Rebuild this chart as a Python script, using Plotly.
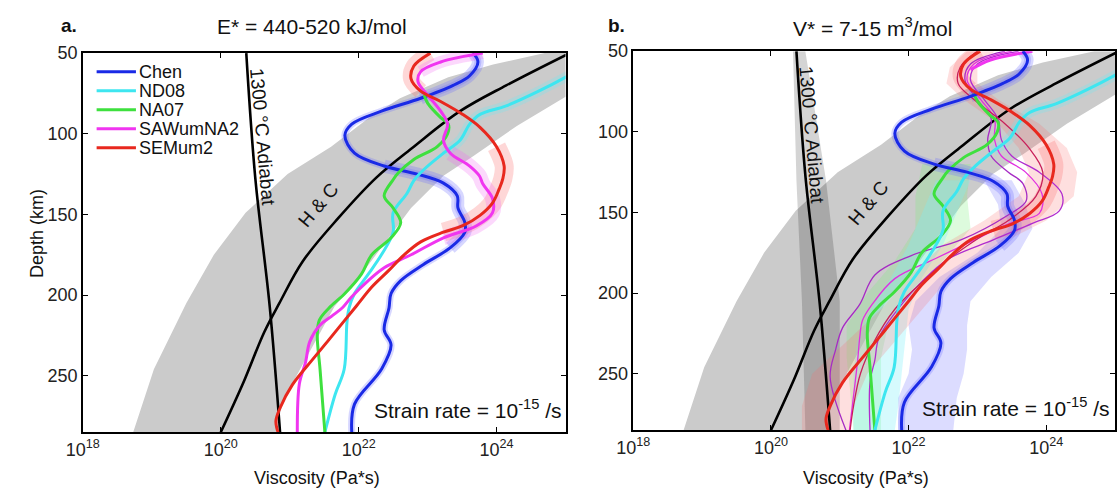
import plotly.graph_objects as go

W, H = 1117, 492
FONT = "Liberation Sans, Arial, sans-serif"

# ---------------- data (depth in km, log10 viscosity in Pa*s) ----------------
series_names = ["Chen", "ND08", "NA07", "SAWumNA2", "SEMum2"]
series_colors = ["#1a2ae6", "#3ee6f0", "#3ee03e", "#f035f0", "#e8281e"]

chen_d = [50, 55.5, 64, 70, 78, 86, 94, 101, 112, 120, 125, 130.6, 138.5, 146, 155, 161,
          170.6, 181, 191, 199, 208, 221.5, 231, 246, 267.6, 285]
chen_v = [23.66, 23.73, 23.61, 23.37, 22.90, 22.33, 21.90, 21.80, 21.94, 22.37, 22.85, 23.23,
          23.43, 23.44, 23.54, 23.54, 23.33, 22.94, 22.61, 22.47, 22.44, 22.37, 22.47, 22.33,
          21.94, 21.90]

nd08_d = [55, 64, 73.6, 82.7, 88, 94, 104, 112, 122, 129, 137, 149, 161, 175, 187, 199, 208,
          217, 246, 261.5, 285]
nd08_v = [25.4, 25.04, 24.61, 24.14, 23.76, 23.61, 23.47, 23.23, 22.95, 22.8, 22.7, 22.5, 22.5,
          22.33, 22.14, 21.94, 21.86, 21.83, 21.79, 21.66, 21.51]

na07_d = [76, 81, 90, 94, 100, 108, 116, 124.5, 128.5, 138.5, 146, 155, 164.5, 175, 187, 199,
          208, 215.5, 225, 246, 285]
na07_v = [22.95, 23.0, 23.19, 23.30, 23.29, 23.14, 22.8, 22.57, 22.5, 22.37, 22.5, 22.61, 22.47,
          22.19, 22.04, 21.80, 21.57, 21.43, 21.40, 21.44, 21.51]

saw_d = [50, 55.5, 61.5, 67.6, 76, 86, 94, 104, 112, 120, 126, 131, 140, 149, 157, 164.5, 175,
         183, 191, 201, 208, 213, 219, 229, 241.5, 255, 285]
saw_v = [23.8, 23.19, 22.9, 22.86, 23.0, 23.19, 23.29, 23.23, 23.33, 23.61, 23.75, 23.8, 23.94,
         23.94, 23.71, 23.23, 22.76, 22.37, 22.14, 21.9, 21.76, 21.61, 21.43, 21.29, 21.23,
         21.14, 21.11]

sem_d = [50, 58, 66, 73.6, 80, 88, 96, 108, 120, 128, 134, 143, 150.6, 157, 161, 167, 175, 185,
         195, 205, 215.5, 227.6, 240, 255.5, 270, 278, 285]
sem_v = [23.04, 22.8, 22.76, 22.9, 23.19, 23.51, 23.76, 24.0, 24.11, 24.09, 24.04, 23.94, 23.76,
         23.51, 23.23, 22.9, 22.66, 22.43, 22.19, 22.0, 21.80, 21.57, 21.33, 21.04, 20.86,
         20.8, 20.83]

# panel b: thin SAWumNA2 / SEMum2 variants
sawb1_d = [50, 58, 68, 80, 92, 105, 115, 125, 138.6, 149, 156.7, 167, 179, 193, 207, 227.6,
           241.5, 255, 285]
sawb1_v = [23.6, 23.0, 22.9, 23.1, 23.3, 23.35, 23.5, 23.9, 24.23, 24.19, 23.8, 23.23, 22.57,
           22.19, 21.9, 21.57, 21.51, 21.44, 21.44]
sawb2_d = [50, 58, 68, 80, 92, 105, 115, 125, 138.6, 150.6, 156.7, 169, 179, 191, 207, 217,
           227.6, 241.5, 285]
sawb2_v = [23.5, 22.95, 22.85, 23.05, 23.25, 23.25, 23.35, 23.7, 23.94, 23.9, 23.47, 22.86,
           22.37, 21.8, 21.47, 21.33, 21.29, 21.26, 21.14]
sawb3_d = [50, 58, 68, 80, 92, 105, 115, 125, 132, 142.7, 152, 167, 176.7, 188.8, 207, 221.5,
           235, 252, 285]
sawb3_v = [23.4, 22.9, 22.82, 23.0, 23.2, 23.15, 23.2, 23.45, 23.66, 23.71, 23.43, 22.76,
           22.04, 21.51, 21.29, 21.04, 20.94, 20.86, 21.09]
semb1_d = [50, 60, 70, 80, 95, 110, 125, 140, 155, 165, 180, 195, 210, 230, 250, 270, 285]
semb1_v = [23.0, 22.75, 22.72, 22.95, 23.4, 23.75, 23.95, 23.85, 23.45, 23.05, 22.55, 22.15,
           21.8, 21.5, 21.3, 21.2, 21.15]

# reference curves
hc_d = [50, 70, 86, 108, 127, 152, 179, 205, 223, 254, 285]
hc_v = [25.06, 24.14, 23.47, 22.8, 22.26, 21.71, 21.19, 20.85, 20.63, 20.33, 20.0]
adiabat_d = [50, 127, 207, 285]
adiabat_v = [20.37, 20.5, 20.71, 20.86]

# H&C range band (grey): upper-left edge (bottom->top), lower-right edge (top->bottom)
band_up_d = [285, 246, 205, 175, 149, 125, 108, 90, 78, 65, 57, 50]
band_up_v = [18.73, 19.03, 19.5, 19.9, 20.36, 20.97, 21.6, 22.15, 22.6, 23.3, 23.95, 24.7]
band_lo_d = [50, 58, 76, 95, 114, 126, 146, 157, 173, 187, 207, 230, 246, 266, 285]
band_lo_v = [26.0, 25.6, 25.04, 24.3, 23.66, 23.23, 22.76, 22.57, 22.29, 22.04, 21.65, 21.35,
             21.15, 20.9, 20.8]

# panel b: adiabat uncertainty band
adb_d = [50, 130, 205, 285]
adb_lo = [20.32, 20.37, 20.45, 20.5]
adb_hi = [20.5, 20.8, 21.0, 21.0]

# panel b: model uncertainty bands
chenb_d = [130, 145, 160, 175, 190, 205, 220, 235, 250, 265, 285]
chenb_lo = [23.1, 23.3, 23.35, 23.0, 22.45, 22.1, 22.0, 22.05, 22.0, 21.85, 21.85]
chenb_hi = [23.5, 23.7, 23.8, 23.6, 23.2, 22.9, 22.85, 22.85, 22.8, 22.7, 22.65]
semb_d = [50, 60, 70, 80, 95, 110, 125, 140, 155, 170, 190, 210, 230, 250, 270, 285]
semb_lo = [22.85, 22.6, 22.55, 22.8, 23.3, 23.6, 23.75, 23.6, 23.1, 22.5, 22.0, 21.6, 21.1,
           20.6, 20.45, 20.45]
semb_hi = [23.25, 23.0, 23.0, 23.3, 23.9, 24.3, 24.45, 24.4, 24.0, 23.3, 22.6, 22.2, 21.8,
           21.4, 21.2, 21.15]
nd08b_d = [130, 150, 170, 190, 210, 230, 250, 270, 285]
nd08b_lo = [22.4, 22.2, 22.0, 21.75, 21.45, 21.25, 21.2, 21.2, 21.2]
nd08b_hi = [22.9, 22.7, 22.5, 22.2, 22.0, 21.95, 21.9, 21.85, 21.8]
na07b_d = [120, 140, 160, 180, 200, 220, 240, 260, 285]
na07b_lo = [22.2, 22.1, 22.1, 21.8, 21.4, 21.1, 21.1, 21.15, 21.2]
na07b_hi = [22.9, 22.85, 22.9, 22.5, 22.0, 21.7, 21.6, 21.6, 21.6]

x_tick_exp = [18, 20, 22, 24]
y_ticks = [50, 100, 150, 200, 250]

# ---------------- helpers ----------------
fig = go.Figure()


def lg(v):
    return [10.0 ** a for a in v]


def seg(d, v, lo, hi):
    pts = [(a, b) for a, b in zip(d, v) if lo <= a <= hi]
    return [p[0] for p in pts], [p[1] for p in pts]


def axes(ax):
    return dict(xaxis="x" + ax, yaxis="y" + ax)


def add_line(ax, d, v, color, width, smooth=1.0):
    fig.add_trace(go.Scatter(x=lg(v), y=list(d), mode="lines",
                             line=dict(color=color, width=width, shape="spline",
                                       smoothing=smooth),
                             showlegend=False, hoverinfo="skip", **axes(ax)))


def add_poly(ax, d1, v1, d2, v2, color):
    xs = lg(v1) + lg(v2)
    ys = list(d1) + list(d2)
    fig.add_trace(go.Scatter(x=xs, y=ys, mode="lines", fill="toself", fillcolor=color,
                             line=dict(width=0, color="rgba(0,0,0,0)"),
                             showlegend=False, hoverinfo="skip", **axes(ax)))


def add_band(ax, d, lo, hi, color):
    add_poly(ax, d, lo, d[::-1], hi[::-1], color)


GREY = "#cbcbcb"
for ax in ["", "2"]:
    add_poly(ax, band_up_d, band_up_v, band_lo_d, band_lo_v, GREY)

# panel b shaded ranges
add_band("2", adb_d, adb_lo, adb_hi, "rgba(0,0,0,0.17)")
add_band("2", na07b_d, na07b_lo, na07b_hi, "rgba(120,240,120,0.25)")
add_band("2", nd08b_d, nd08b_lo, nd08b_hi, "rgba(120,240,250,0.30)")
add_band("2", chenb_d, chenb_lo, chenb_hi, "rgba(140,140,255,0.30)")
add_band("2", semb_d, semb_lo, semb_hi, "rgba(250,110,110,0.22)")

# translucent glows around model curves
glow = {
    "Chen": "rgba(110,110,255,0.28)",
    "ND08": "rgba(110,235,245,0.28)",
    "SAWumNA2": "rgba(245,100,245,0.25)",
    "SEMum2": "rgba(250,110,110,0.28)",
}
for ax in ["", "2"]:
    for lo, hi, w in [(50, 80, 12), (120, 176, 13)]:
        d, v = seg(chen_d, chen_v, lo, hi)
        add_line(ax, d, v, glow["Chen"], w)
    add_line(ax, chen_d, chen_v, glow["Chen"], 7)
    d, v = seg(nd08_d, nd08_v, 60, 118)
    add_line(ax, d, v, glow["ND08"], 10)
    for lo, hi, w in [(50, 76, 16), (98, 166, 19)]:
        d, v = seg(sem_d, sem_v, lo, hi)
        add_line(ax, d, v, glow["SEMum2"], w)
for lo, hi, w in [(50, 62, 12), (110, 170, 15)]:
    d, v = seg(saw_d, saw_v, lo, hi)
    add_line("", d, v, glow["SAWumNA2"], w)

# reference black curves
for ax in ["", "2"]:
    add_line(ax, hc_d, hc_v, "black", 2.6)
    add_line(ax, adiabat_d, adiabat_v, "black", 2.6)

# model curves
main = [(chen_d, chen_v), (nd08_d, nd08_v), (na07_d, na07_v), (saw_d, saw_v), (sem_d, sem_v)]
for i, (d, v) in enumerate(main):
    add_line("", d, v, series_colors[i], 3)

# panel b
for d, v, c in [(sawb1_d, sawb1_v, "#b02ccf"), (sawb2_d, sawb2_v, "#e030e0"),
                (sawb3_d, sawb3_v, "#a62bc4"), (semb1_d, semb1_v, "#c8205a")]:
    add_line("2", d, v, c, 1.3)
d, v = seg(saw_d, saw_v, 50, 62)
add_line("2", d, v, series_colors[3], 3)
for i in [2, 1, 0, 4]:
    d, v = main[i]
    add_line("2", d, v, series_colors[i], 3)

# ---------------- axes ----------------
TICKFONT = dict(family=FONT, size=18, color="#222")


def xax(domain, anchor):
    return dict(type="log", range=[18, 25], domain=domain, anchor=anchor,
                tickvals=[10.0 ** e for e in x_tick_exp],
                ticktext=["10<sup>%d</sup>" % e for e in x_tick_exp],
                ticks="inside", ticklen=5, tickwidth=1, tickcolor="black",
                showline=True, mirror="ticks", linecolor="black", linewidth=1.6,
                showgrid=False, zeroline=False, tickfont=TICKFONT)


def yax(domain, anchor):
    return dict(range=[285, 50], domain=domain, anchor=anchor, tickvals=y_ticks,
                ticks="inside", ticklen=5, tickwidth=1, tickcolor="black",
                showline=True, mirror="ticks", linecolor="black", linewidth=1.6,
                showgrid=False, zeroline=False, tickfont=TICKFONT)


fig.update_layout(
    width=W, height=H, margin=dict(l=0, r=0, t=0, b=0),
    paper_bgcolor="white", plot_bgcolor="white", showlegend=False,
    xaxis=xax([67 / W, 558 / W], "y"),
    yaxis=yax([1 - 431 / H, 1 - 44 / H], "x"),
    xaxis2=xax([627 / W, 1.0], "y2"),
    yaxis2=yax([1 - 429 / H, 1 - 42 / H], "x2"),
    font=dict(family=FONT, size=18, color="#222"),
)


def ann(text, px, py, size, xanchor="center", angle=0, bold=False):
    fig.add_annotation(text=("<b>%s</b>" % text) if bold else text,
                       x=px / W, y=1 - py / H, xref="paper", yref="paper",
                       xanchor=xanchor, yanchor="middle", showarrow=False, textangle=angle,
                       font=dict(family=FONT, size=size, color="#111"))


ann("a.", 53, 16, 19, bold=True)
ann("E* = 440-520 kJ/mol", 300, 17, 21)
ann("b.", 610, 16, 19, bold=True)
ann("V* = 7-15 m<sup>3</sup>/mol", 870, 17, 21)
ann("Depth (km)", 21, 228, 18, angle=-90)
ann("Viscosity (Pa*s)", 305, 478, 18)
ann("Viscosity (Pa*s)", 864, 478, 18)
ann("Strain rate = 10<sup>-15</sup> /s", 556, 407, 21, xanchor="right")
ann("Strain rate = 10<sup>-15</sup> /s", 1114, 405, 21, xanchor="right")

for ax in ["", "2"]:
    fig.add_annotation(text="1300 °C Adiabat", x=20.6, y=102, xref="x" + ax, yref="y" + ax,
                       showarrow=False, textangle=85,
                       font=dict(family=FONT, size=19, color="#111"))
    fig.add_annotation(text="H & C", x=21.42, y=144, xref="x" + ax, yref="y" + ax,
                       showarrow=False, textangle=-50,
                       font=dict(family=FONT, size=19, color="#111"))

# legend (panel a, top-left)
for i, name in enumerate(series_names):
    py = 63 + 19.4 * i
    fig.add_shape(type="line", xref="paper", yref="paper", x0=81 / W, x1=121 / W,
                  y0=1 - py / H, y1=1 - py / H, line=dict(color=series_colors[i], width=3))
    fig.add_annotation(text=name, x=122 / W, y=1 - py / H, xref="paper", yref="paper",
                       xanchor="left", yanchor="middle", showarrow=False,
                       font=dict(family=FONT, size=18, color="#111"))

fig.write_html("out.html", config={"displayModeBar": False})
